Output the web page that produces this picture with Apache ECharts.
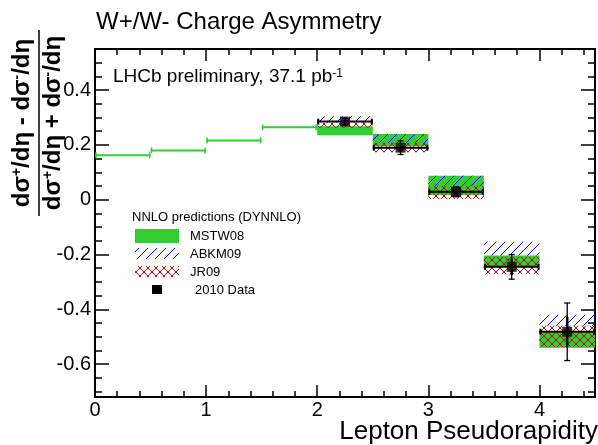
<!DOCTYPE html>
<html><head><meta charset="utf-8">
<script src="https://cdn.jsdelivr.net/npm/echarts@6/dist/echarts.min.js"></script>
<style>html,body{margin:0;padding:0;background:#fff}#c{width:598px;height:445px}</style>
</head><body><div id="c"></div>
<script>
// ---- data ----
const binLo = [2.0, 2.5, 3.0, 3.5, 4.0];
const binHi = [2.5, 3.0, 3.5, 4.0, 4.5];
const binMid = [2.25, 2.75, 3.25, 3.75, 4.25];
const mstwLow  = [0.235, 0.196, 0.017, -0.242, -0.540];
const mstwHigh = [0.268, 0.240, 0.087, -0.204, -0.485];
const abkmLow  = [0.281, 0.208, 0.051, -0.204, -0.460];
const abkmHigh = [0.305, 0.239, 0.087, -0.153, -0.420];
const jrLow    = [0.263, 0.173, 0.003, -0.272, -0.538];
const jrHigh   = [0.281, 0.208, 0.051, -0.208, -0.460];
const dataY    = [0.285, 0.190, 0.029, -0.245, -0.482];
const dataStat = [0.010, 0.015, 0.012, 0.030, 0.055];
const dataTot  = [0.012, 0.025, 0.018, 0.045, 0.105];
const lineLo = [0.0, 0.5, 1.0, 1.5];
const lineHi = [0.5, 1.0, 1.5, 2.0];
const lineY  = [0.162, 0.180, 0.216, 0.264];
const xMajor = [0, 1, 2, 3, 4];
const xMinor = [0.2,0.4,0.6,0.8,1.2,1.4,1.6,1.8,2.2,2.4,2.6,2.8,3.2,3.4,3.6,3.8,4.2,4.4];
const yMajor = [-0.6, -0.4, -0.2, 0, 0.2, 0.4];
const yMinor = [-0.7,-0.65,-0.55,-0.5,-0.45,-0.35,-0.3,-0.25,-0.15,-0.1,-0.05,0.05,0.1,0.15,0.25,0.3,0.35,0.45,0.5,0.55];
const legendNames = ['MSTW08', 'ABKM09', 'JR09', '2010 Data'];

// ---- styles ----
const FONT = 'Liberation Sans, Arial, Helvetica, sans-serif';
const GREEN = '#33cc33';
function makeHatch(kind) {
  const s = kind === 'blue' ? 9 : 8;
  const c = document.createElement('canvas');
  c.width = s; c.height = s;
  const g = c.getContext('2d');
  g.lineWidth = 1;
  g.strokeStyle = kind === 'blue' ? '#0000ff' : '#b01010';
  g.beginPath();
  g.moveTo(0, s); g.lineTo(s, 0);
  g.moveTo(-1, 1); g.lineTo(1, -1);
  g.moveTo(s - 1, s + 1); g.lineTo(s + 1, s - 1);
  if (kind !== 'blue') {
    g.moveTo(0, 0); g.lineTo(s, s);
    g.moveTo(-1, s - 1); g.lineTo(1, s + 1);
    g.moveTo(s - 1, -1); g.lineTo(s + 1, 1);
  }
  g.stroke();
  return c;
}
const blueFill = {image: makeHatch('blue'), repeat: 'repeat'};
const redFill = {image: makeHatch('red'), repeat: 'repeat'};

function boxSeries(name, lows, highs, fill, z) {
  return {
    type: 'custom', name: name, z: z, silent: true, animation: false,
    encode: {x: [0, 1], y: [2, 3]},
    data: binLo.map((lo, i) => [lo, binHi[i], lows[i], highs[i]]),
    renderItem: function (params, api) {
      const a = api.coord([api.value(0), api.value(3)]);
      const b = api.coord([api.value(1), api.value(2)]);
      return {type: 'rect', shape: {x: a[0], y: a[1], width: b[0] - a[0], height: b[1] - a[1]}, style: {fill: fill}};
    }
  };
}

const chart = echarts.init(document.getElementById('c'), null, {renderer: 'canvas'});
const tickLine = {color: '#000', width: 1.5};
function xAx(pos, vals, len, major) {
  return {
    type: 'value', position: pos, min: 0, max: 4.5,
    axisLine: {show: major, onZero: false, lineStyle: {color: '#000', width: 2}},
    axisTick: {show: true, inside: true, length: len, customValues: vals, lineStyle: tickLine},
    axisLabel: (major && pos === 'bottom') ? {show: true, customValues: vals, margin: 3, fontFamily: FONT, fontSize: 20, color: '#000'} : {show: false},
    splitLine: {show: false}
  };
}
function yAx(pos, vals, len, major) {
  return {
    type: 'value', position: pos, min: -0.72, max: 0.55,
    axisLine: {show: major, onZero: false, lineStyle: {color: '#000', width: 2}},
    axisTick: {show: true, inside: true, length: len, customValues: vals, lineStyle: tickLine},
    axisLabel: (major && pos === 'left') ? {show: true, customValues: vals, margin: 4, fontFamily: FONT, fontSize: 20, color: '#000'} : {show: false},
    splitLine: {show: false}
  };
}

const option = {
  animation: false,
  backgroundColor: '#fff',
  grid: {left: 95, right: 3, top: 49, bottom: 48, containLabel: false},
  xAxis: [xAx('bottom', xMajor, 12, true), xAx('bottom', xMinor, 6, false), xAx('top', xMajor, 12, true), xAx('top', xMinor, 6, false)],
  yAxis: [yAx('left', yMajor, 14, true), yAx('left', yMinor, 7, false), yAx('right', yMajor, 14, true), yAx('right', yMinor, 7, false)],
  series: [
    {
      type: 'custom', name: 'MSTW08 line', z: 2, silent: true, animation: false,
      encode: {x: [0, 1], y: 2},
      data: lineLo.map((lo, i) => [lo, lineHi[i], lineY[i]]),
      renderItem: function (params, api) {
        const a = api.coord([api.value(0), api.value(2)]);
        const b = api.coord([api.value(1), api.value(2)]);
        const st = {stroke: GREEN, lineWidth: 2};
        const sc = {stroke: GREEN, lineWidth: 1.5};
        return {type: 'group', children: [
          {type: 'line', shape: {x1: a[0], y1: a[1], x2: b[0], y2: b[1]}, style: st},
          {type: 'line', shape: {x1: a[0] + 1, y1: a[1] - 3, x2: a[0] + 1, y2: a[1] + 3}, style: sc},
          {type: 'line', shape: {x1: b[0] - 1, y1: b[1] - 3, x2: b[0] - 1, y2: b[1] + 3}, style: sc}
        ]};
      }
    },
    boxSeries('MSTW08', mstwLow, mstwHigh, GREEN, 3),
    boxSeries('ABKM09', abkmLow, abkmHigh, blueFill, 4),
    boxSeries('JR09', jrLow, jrHigh, redFill, 5),
    {
      type: 'custom', name: 'errors', z: 6, silent: true, animation: false,
      encode: {x: [0, 1], y: 3},
      data: binLo.map((lo, i) => [lo, binHi[i], binMid[i], dataY[i], dataStat[i], dataTot[i]]),
      renderItem: function (params, api) {
        const lo = api.value(0), hi = api.value(1), xm = api.value(2), y = api.value(3), st = api.value(4), tot = api.value(5);
        const pL = api.coord([lo, y]), pR = api.coord([hi, y]);
        const tT = api.coord([xm, y + tot]), tB = api.coord([xm, y - tot]);
        const sT = api.coord([xm, y + st]), sB = api.coord([xm, y - st]);
        const k = {stroke: '#000', lineWidth: 2};
        const k1 = {stroke: '#000', lineWidth: 1.3};
        return {type: 'group', children: [
          {type: 'line', shape: {x1: pL[0], y1: pL[1], x2: pR[0], y2: pR[1]}, style: k},
          {type: 'line', shape: {x1: pL[0] + 1, y1: pL[1] - 3, x2: pL[0] + 1, y2: pL[1] + 3}, style: k},
          {type: 'line', shape: {x1: pR[0] - 1, y1: pR[1] - 3, x2: pR[0] - 1, y2: pR[1] + 3}, style: k},
          {type: 'line', shape: {x1: tT[0], y1: tT[1], x2: tB[0], y2: tB[1]}, style: k1},
          {type: 'line', shape: {x1: tT[0] - 3, y1: tT[1], x2: tT[0] + 3, y2: tT[1]}, style: k1},
          {type: 'line', shape: {x1: tB[0] - 3, y1: tB[1], x2: tB[0] + 3, y2: tB[1]}, style: k1},
          {type: 'line', shape: {x1: sT[0], y1: sT[1], x2: sB[0], y2: sB[1]}, style: {stroke: '#000', lineWidth: 2.5}}
        ]};
      }
    },
    {
      type: 'scatter', name: '2010 Data', z: 7, silent: true, animation: false,
      symbol: 'rect', symbolSize: 10, itemStyle: {color: '#000'},
      data: binMid.map((x, i) => [x, dataY[i]])
    }
  ],
  graphic: [
    {type: 'text', x: 96, y: 22, style: {text: 'W+/W- Charge Asymmetry', fontFamily: FONT, fontSize: 24, fill: '#000', align: 'left', verticalAlign: 'middle', textAlign: 'left', textVerticalAlign: 'middle'}},
    {type: 'text', x: 113, y: 77, z: 20, style: {text: 'LHCb preliminary, 37.1 pb{sup|-1}', fontFamily: FONT, fontSize: 19, fill: '#000', align: 'left', verticalAlign: 'middle', textAlign: 'left', textVerticalAlign: 'middle',
      rich: {sup: {fontFamily: FONT, fontSize: 12, verticalAlign: 'top', fill: '#000'}}}},
    {type: 'text', x: 598, y: 432, style: {text: 'Lepton Pseudorapidity', fontFamily: FONT, fontSize: 26, fill: '#000', align: 'right', verticalAlign: 'middle', textAlign: 'right', textVerticalAlign: 'middle'}},
    {type: 'text', x: 22, y: 123, rotation: Math.PI / 2, style: {text: 'dσ{sup|+}/dη - dσ{sup|-}/dη', fontFamily: FONT, fontSize: 24, fontWeight: 'bold', fill: '#000', align: 'center', verticalAlign: 'middle', textAlign: 'center', textVerticalAlign: 'middle',
      rich: {sup: {fontFamily: FONT, fontSize: 14, fontWeight: 'bold', verticalAlign: 'top', fill: '#000'}}}},
    {type: 'text', x: 53, y: 123, rotation: Math.PI / 2, style: {text: 'dσ{sup|+}/dη + dσ{sup|-}/dη', fontFamily: FONT, fontSize: 24, fontWeight: 'bold', fill: '#000', align: 'center', verticalAlign: 'middle', textAlign: 'center', textVerticalAlign: 'middle',
      rich: {sup: {fontFamily: FONT, fontSize: 14, fontWeight: 'bold', verticalAlign: 'top', fill: '#000'}}}},
    {type: 'line', shape: {x1: 39, y1: 30, x2: 39, y2: 216}, style: {stroke: '#000', lineWidth: 1.5}},
    // legend
    {type: 'text', x: 132, y: 217, style: {text: 'NNLO predictions (DYNNLO)', fontFamily: FONT, fontSize: 13, fill: '#000', align: 'left', verticalAlign: 'middle', textAlign: 'left', textVerticalAlign: 'middle'}},
    {type: 'rect', shape: {x: 135, y: 229, width: 44, height: 14}, style: {fill: GREEN}},
    {type: 'text', x: 190, y: 236, style: {text: legendNames[0], fontFamily: FONT, fontSize: 13, fill: '#000', align: 'left', verticalAlign: 'middle', textAlign: 'left', textVerticalAlign: 'middle'}},
    {type: 'rect', shape: {x: 135, y: 248, width: 44, height: 11}, style: {fill: blueFill}},
    {type: 'text', x: 190, y: 254, style: {text: legendNames[1], fontFamily: FONT, fontSize: 13, fill: '#000', align: 'left', verticalAlign: 'middle', textAlign: 'left', textVerticalAlign: 'middle'}},
    {type: 'rect', shape: {x: 135, y: 266, width: 44, height: 11}, style: {fill: redFill}},
    {type: 'text', x: 190, y: 272, style: {text: legendNames[2], fontFamily: FONT, fontSize: 13, fill: '#000', align: 'left', verticalAlign: 'middle', textAlign: 'left', textVerticalAlign: 'middle'}},
    {type: 'rect', shape: {x: 152, y: 285, width: 10, height: 9}, style: {fill: '#000'}},
    {type: 'text', x: 195, y: 290, style: {text: legendNames[3], fontFamily: FONT, fontSize: 13, fill: '#000', align: 'left', verticalAlign: 'middle', textAlign: 'left', textVerticalAlign: 'middle'}}
  ]
};
chart.setOption(option);
</script>
</body></html>
